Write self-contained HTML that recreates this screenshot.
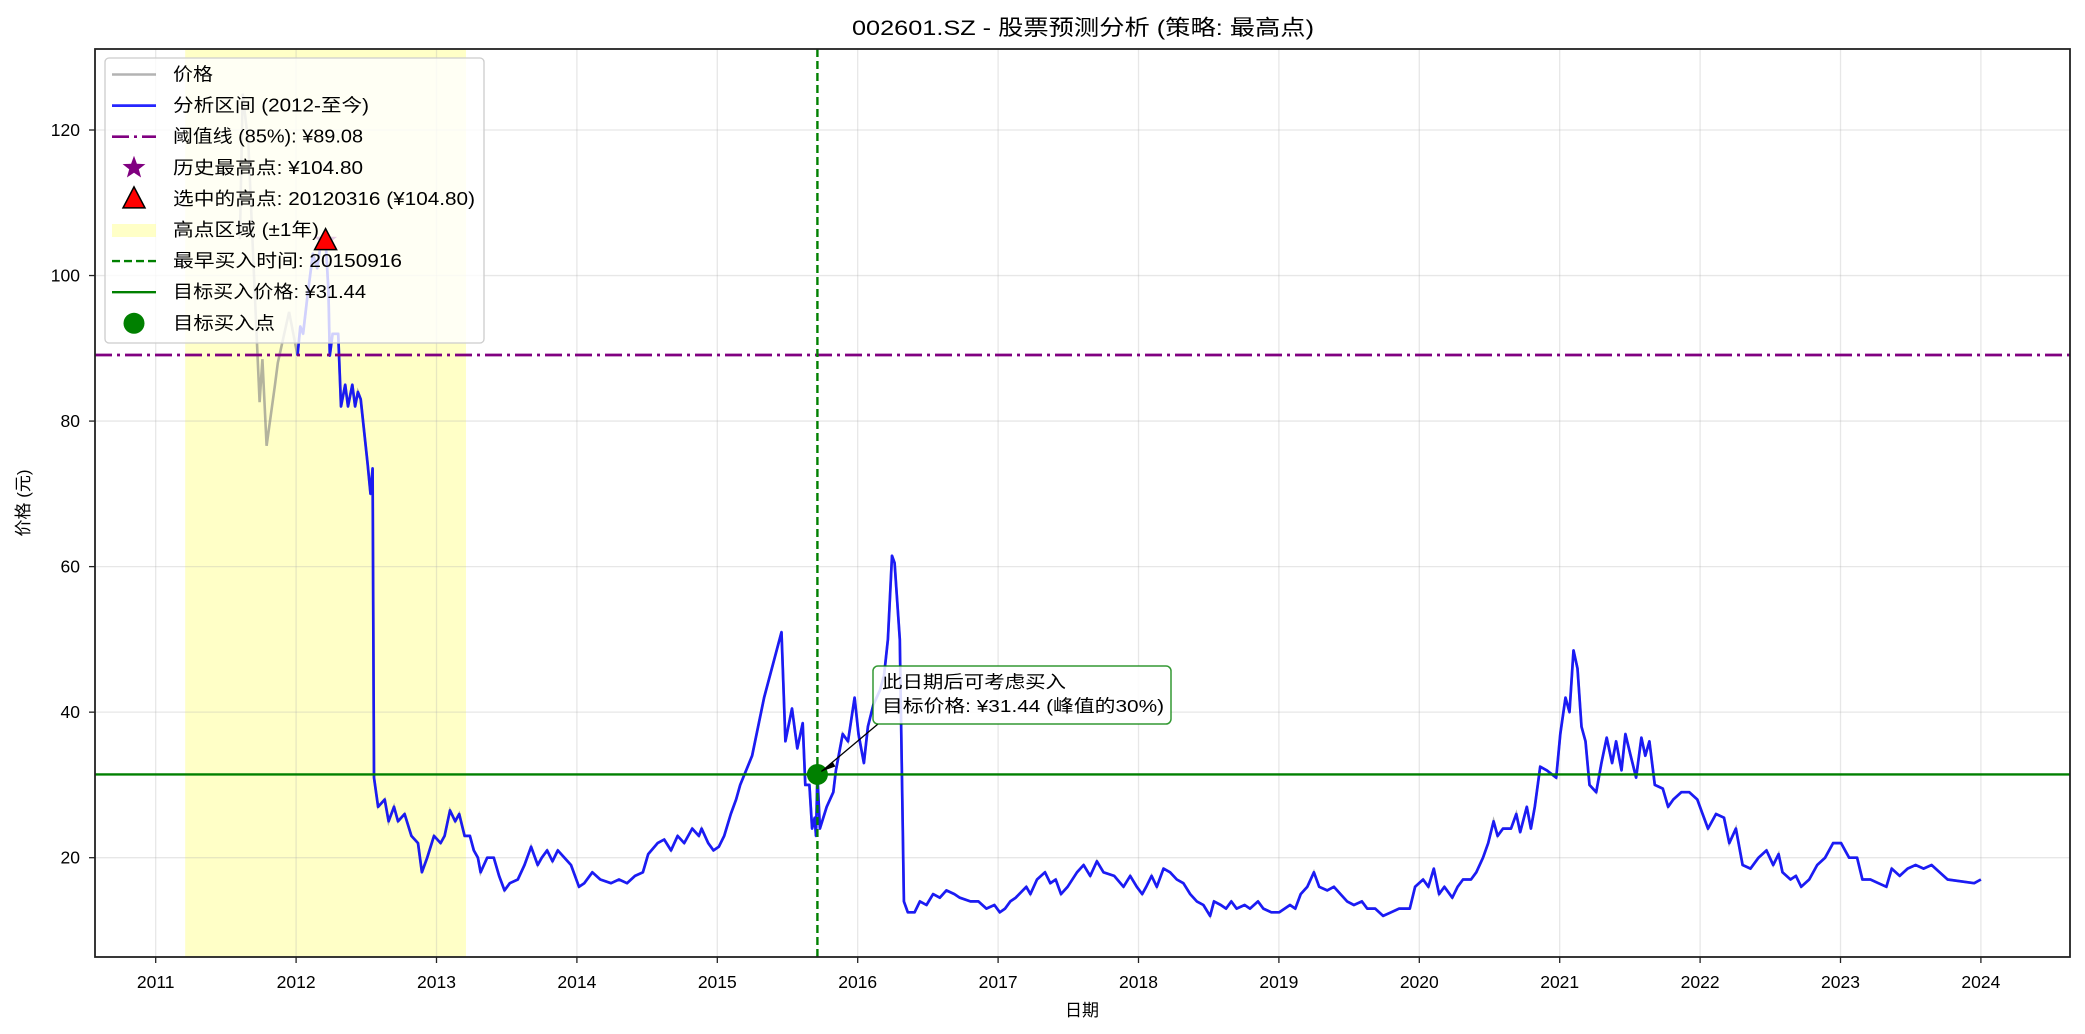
<!DOCTYPE html>
<html><head><meta charset="utf-8">
<style>
html,body{margin:0;padding:0;background:#fff;}
svg{display:block;font-family:"Liberation Sans","Noto Sans CJK SC",sans-serif;}
</style></head>
<body>
<svg id="chart" width="2085" height="1034" viewBox="0 0 2085 1034" xmlns="http://www.w3.org/2000/svg"></svg>
<script>
// ---- data ----
const grayYears = [2011.60,2011.62,2011.66,2011.70,2011.74,2011.76,2011.79,2011.85,2011.87,2011.95];
const grayValues = [105,125,118,100,82.6,88.5,76.6,85,88,95];
const blueYears = [2012.01,2012.03,2012.05,2012.08,2012.12,2012.15,2012.18,2012.21,2012.23,2012.24,2012.26,2012.30,2012.32,2012.35,2012.37,2012.40,2012.42,2012.44,2012.46,2012.51,2012.53,2012.545,
2012.555,2012.584,2012.631,2012.659,2012.697,2012.726,2012.773,2012.821,2012.868,2012.896,2012.934,2012.982,2013.029,2013.058,2013.096,2013.133,2013.162,2013.200,2013.238,2013.266,2013.295,2013.314,2013.361,2013.408,2013.446,2013.484,2013.522,2013.579,2013.627,2013.674,2013.721,2013.750,2013.788,2013.826,2013.864,2013.911,2013.958,2014.015,2014.053,2014.110,2014.167,2014.243,2014.300,2014.357,2014.414,2014.470,2014.508,2014.575,2014.622,2014.670,2014.717,2014.764,2014.821,2014.869,2014.888,2014.935,2014.973,2015.011,2015.049,2015.096,2015.134,2015.163,2015.248,2015.333,2015.457,2015.485,2015.532,2015.570,2015.608,2015.627,2015.656,2015.675,2015.694,2015.703,2015.713,2015.731,2015.779,2015.826,2015.845,2015.893,2015.931,2015.978,2016.006,2016.044,2016.073,2016.111,2016.158,2016.187,2016.215,2016.244,2016.263,2016.300,2016.329,2016.357,2016.405,2016.443,2016.490,2016.537,2016.585,2016.632,2016.689,2016.727,2016.803,2016.860,2016.917,2016.974,2017.012,2017.050,2017.087,2017.125,2017.201,2017.230,2017.277,2017.334,2017.372,2017.410,2017.448,2017.495,2017.562,2017.609,2017.656,2017.704,2017.751,2017.827,2017.893,2017.941,2017.988,2018.026,2018.055,2018.093,2018.130,2018.178,2018.225,2018.273,2018.320,2018.368,2018.415,2018.462,2018.510,2018.538,2018.586,2018.624,2018.661,2018.699,2018.756,2018.794,2018.851,2018.889,2018.946,2019.003,2019.079,2019.117,2019.155,2019.202,2019.249,2019.287,2019.344,2019.392,2019.439,2019.486,2019.534,2019.591,2019.629,2019.686,2019.742,2019.799,2019.856,2019.932,2019.970,2020.027,2020.065,2020.103,2020.141,2020.179,2020.235,2020.273,2020.311,2020.368,2020.406,2020.454,2020.491,2020.529,2020.558,2020.596,2020.653,2020.691,2020.719,2020.766,2020.795,2020.823,2020.861,2020.909,2020.975,2021.004,2021.041,2021.070,2021.098,2021.127,2021.155,2021.184,2021.212,2021.260,2021.297,2021.335,2021.373,2021.402,2021.440,2021.468,2021.506,2021.544,2021.582,2021.610,2021.639,2021.677,2021.734,2021.772,2021.809,2021.866,2021.923,2021.980,2022.018,2022.056,2022.113,2022.170,2022.208,2022.255,2022.303,2022.359,2022.416,2022.473,2022.521,2022.559,2022.587,2022.644,2022.682,2022.720,2022.777,2022.834,2022.890,2022.947,2023.004,2023.061,2023.118,2023.156,2023.213,2023.270,2023.327,2023.365,2023.422,2023.478,2023.535,2023.592,2023.649,2023.706,2023.763,2023.952,2024.000];
const blueValues = [89,93,92,97,103,101,105,104.8,98,89,92,92,82,85,82,85,82,84,83,74,70,73.5,
31,27,28,25,27,25,26,23,22,18,20,23,22,23,26.5,25,26,23,23,21,20,18,20,20,17.5,15.5,16.5,17,19,21.5,19,20,21,19.5,21,20,19,16,16.5,18,17,16.5,17,16.5,17.5,18,20.5,22,22.5,21,23,22,24,23,24,22,21,21.5,23,26,28,30,34,42,51,36,40.5,35,38.5,30,30,24,25.5,23,31.44,24,27,29,32,37,36,42,37,33,38,41,43,45,50,61.5,60.5,50,14,12.5,12.5,14,13.5,15,14.5,15.5,15,14.5,14,14,13,13.5,12.5,13,14,14.5,16,15,17,18,16.5,17,15,16,18,19,17.5,19.5,18,17.5,16,17.5,16,15,16,17.5,16,18.5,18,17,16.5,15,14,13.5,12,14,13.5,13,14,13,13.5,13,14,13,12.5,12.5,13.5,13,15,16,18,16,15.5,16,15,14,13.5,14,13,13,12,12.5,13,13,16,17,16,18.5,15,16,14.5,16,17,17,18,20,22,25,23,24,24,26,23.5,27,24,27,32.5,32,31,37,42,40,48.5,46,38,36,30,29,33,36.5,33,36,32,37,34,31,36.5,34,36,30,29.5,27,28,29,29,28,26,24,26,25.5,22,24,19,18.5,20,21,19,20.5,18,17,17.5,16,17,19,20,22,22,20,20,17,17,16.5,16,18.5,17.5,18.5,19,18.5,19,18,17,16.5,17];
const yTicks = [20,40,60,80,100,120];
const xTicks = [2011,2012,2013,2014,2015,2016,2017,2018,2019,2020,2021,2022,2023,2024];
const thresholdValue = [89.08];
const targetPrice = [31.44];
const buyYear = [2015.713];
const peakPoint = [2012.21,104.8];
const zoneRange = [2011.21,2013.21];

// ---- axes ----
const L=95,R=2070,T=49,B=957;
const x=yr=>155.7+(yr-2011)*(1980.9-155.7)/13;
const y=v=>857.7-(v-20)*7.277;
const NS="http://www.w3.org/2000/svg";
const svg=document.getElementById('chart');
function mk(tag,attrs,parent){const e=document.createElementNS(NS,tag);for(const k in attrs)e.setAttribute(k,attrs[k]);(parent||svg).appendChild(e);return e;}
function txt(s,attrs,parent){const e=mk('text',attrs,parent);e.textContent=s;return e;}

const bg=mk('rect',{x:0,y:0,width:2085,height:1034,fill:'#fff'});



const zone=mk('rect',{x:x(zoneRange[0]),y:T,width:x(zoneRange[1])-x(zoneRange[0]),height:B-T,fill:'#ffff99',opacity:0.55});



const grid=mk('g',{stroke:'#b0b0b0','stroke-opacity':0.3,'stroke-width':1.3});


xTicks.forEach(t=>{mk('line',{x1:x(t),x2:x(t),y1:T,y2:B},grid);});
yTicks.forEach(t=>{mk('line',{x1:L,x2:R,y1:y(t),y2:y(t)},grid);});

const clip=mk('clipPath',{id:'pc'});mk('rect',{x:L,y:T,width:R-L,height:B-T},clip);
const plot=mk('g',{'clip-path':'url(#pc)'});

function pathOf(xs,vs){return xs.map((t,i)=>(i?'L':'M')+x(t).toFixed(1)+','+y(vs[i]).toFixed(1)).join(' ');}
const gp=mk('path',{d:pathOf(grayYears.concat(blueYears),grayValues.concat(blueValues)),fill:'none',stroke:'#808080','stroke-opacity':0.6,'stroke-width':2.6},plot);


const bp=mk('path',{d:pathOf(blueYears,blueValues),fill:'none',stroke:'#0000ff','stroke-opacity':0.85,'stroke-width':2.7,'stroke-linejoin':'round'},plot);



const th=mk('line',{x1:L,x2:R,y1:y(thresholdValue[0]),y2:y(thresholdValue[0]),stroke:'#800080','stroke-width':2.7,'stroke-dasharray':'17,5,3,5'},plot);


const tp=mk('line',{x1:L,x2:R,y1:y(targetPrice[0]),y2:y(targetPrice[0]),stroke:'#008000','stroke-width':2.4},plot);


const vb=mk('line',{x1:x(buyYear[0]),x2:x(buyYear[0]),y1:T,y2:B,stroke:'#008000','stroke-width':2.4,'stroke-dasharray':'8,4'},plot);



const px=x(peakPoint[0]),py=y(peakPoint[1]);
const star=mk('polygon',{points:(()=>{let p=[];for(let i=0;i<10;i++){const r=i%2?5:12,a=-Math.PI/2+i*Math.PI/5;p.push((px+r*Math.cos(a)).toFixed(1)+','+(py+r*Math.sin(a)).toFixed(1));}return p.join(' ');})(),fill:'#800080'},plot);


const dot=mk('circle',{cx:x(buyYear[0]),cy:y(targetPrice[0]),r:10.5,fill:'#008000'},plot);



// annotation
const ann=mk('g',{});


mk('line',{x1:878,y1:724,x2:x(buyYear[0])+4,y2:y(targetPrice[0])-3,stroke:'#000','stroke-width':1.3},ann);
mk('polygon',{points:`${x(buyYear[0])+4},${y(targetPrice[0])-3} ${x(buyYear[0])+15},${y(targetPrice[0])-13} ${x(buyYear[0])+18},${y(targetPrice[0])-8}`,fill:'#000'},ann);
mk('rect',{x:873,y:666,width:298,height:58,rx:5,fill:'#fff','fill-opacity':0.85,stroke:'#008000','stroke-opacity':0.8,'stroke-width':1.5},ann);
txt('此日期后可考虑买入',{x:882,y:688,'font-size':17.5,fill:'#000','textLength':184,'lengthAdjust':'spacingAndGlyphs'},ann);
txt('目标价格: ¥31.44 (峰值的30%)',{x:882,y:712,'font-size':17.5,fill:'#000','textLength':282,'lengthAdjust':'spacingAndGlyphs'},ann);

// axes frame
const fr=mk('rect',{x:L,y:T,width:R-L,height:B-T,fill:'none',stroke:'#222','stroke-width':1.8});


const xa=mk('g',{'font-size':17.5,fill:'#000','text-anchor':'middle'});


xTicks.forEach(t=>{mk('line',{x1:x(t),x2:x(t),y1:B,y2:B+6,stroke:'#222','stroke-width':1.3},xa);txt(String(t),{x:x(t),y:988},xa);});
const ya=mk('g',{'font-size':17.5,fill:'#000','text-anchor':'end'});


yTicks.forEach(t=>{mk('line',{x1:L-6,x2:L,y1:y(t),y2:y(t),stroke:'#222','stroke-width':1.3},ya);txt(String(t),{x:80,y:y(t)+6},ya);});

const title=txt('002601.SZ  - 股票预测分析 (策略: 最高点)',{x:852,y:35,'font-size':21.5,fill:'#000','textLength':462,'lengthAdjust':'spacingAndGlyphs'});


const xl=txt('日期',{x:1082,y:1016,'font-size':17,'text-anchor':'middle',fill:'#000'});


const yl=txt('价格 (元)',{x:0,y:0,'font-size':17,'text-anchor':'middle',fill:'#000',transform:'translate(29,503) rotate(-90)'});



// legend
const lg=mk('g',{});


mk('rect',{x:105,y:58,width:379,height:285,rx:4,fill:'#fff','fill-opacity':0.8,stroke:'#ccc','stroke-width':1.3},lg);
const labels=['价格','分析区间 (2012-至今)','阈值线 (85%): ¥89.08','历史最高点: ¥104.80','选中的高点: 20120316 (¥104.80)','高点区域 (±1年)','最早买入时间: 20150916','目标买入价格: ¥31.44','目标买入点'];
const legendWidths=[40,196,190,190,302,146,229,193,102];
labels.forEach((s,i)=>{
  const cy=74.5+i*31.1;
  const it=mk('g',{},lg);
  
  
  if(i===0)mk('line',{x1:112,x2:156,y1:cy,y2:cy,stroke:'#808080','stroke-opacity':0.6,'stroke-width':2.6},it);
  if(i===1)mk('line',{x1:112,x2:156,y1:cy,y2:cy,stroke:'#0000ff','stroke-opacity':0.85,'stroke-width':2.7},it);
  if(i===2)mk('line',{x1:112,x2:156,y1:cy,y2:cy,stroke:'#800080','stroke-width':2.7,'stroke-dasharray':'17,5,3,5'},it);
  if(i===3){let p=[];for(let k=0;k<10;k++){const r=k%2?5:12,a=-Math.PI/2+k*Math.PI/5;p.push((134+r*Math.cos(a)).toFixed(1)+','+(cy+r*Math.sin(a)).toFixed(1));}mk('polygon',{points:p.join(' '),fill:'#800080'},it);}
  if(i===4)mk('polygon',{points:`134,${cy-12} 123,${cy+9} 145,${cy+9}`,fill:'#ff0000',stroke:'#000','stroke-width':1.5},it);
  if(i===5)mk('rect',{x:112,y:cy-6,width:44,height:13,fill:'#ffff99',opacity:0.55},it);
  if(i===6)mk('line',{x1:112,x2:156,y1:cy,y2:cy,stroke:'#008000','stroke-width':2.4,'stroke-dasharray':'8,4'},it);
  if(i===7)mk('line',{x1:112,x2:156,y1:cy,y2:cy,stroke:'#008000','stroke-width':2.4},it);
  if(i===8)mk('circle',{cx:134,cy:cy,r:10.5,fill:'#008000'},it);
  txt(s,{x:173,y:cy+6,'font-size':18,fill:'#000','textLength':legendWidths[i],'lengthAdjust':'spacingAndGlyphs'},it);
});

// selected peak marker above legend
const tri=mk('polygon',{points:`${px},${py-12} ${px-11},${py+9} ${px+11},${py+9}`,fill:'#ff0000',stroke:'#000','stroke-width':1.5});


</script>
</body></html>
